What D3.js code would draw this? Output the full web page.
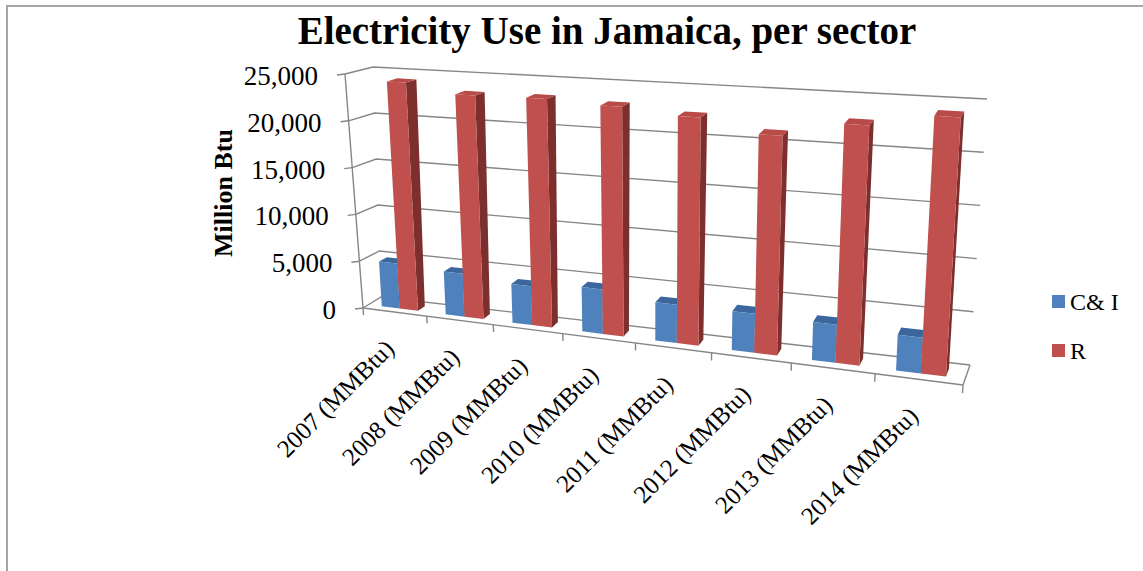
<!DOCTYPE html>
<html>
<head>
<meta charset="utf-8">
<script src="https://cdn.jsdelivr.net/npm/d3@7"></script>
<style>
  body { margin: 0; background: #fff; }
  text { font-family: "Liberation Serif", "DejaVu Serif", serif; fill: #000; }
</style>
</head>
<body>
<div class="canvas"></div>
<script>
const categories = ['2007 (MMBtu)', '2008 (MMBtu)', '2009 (MMBtu)', '2010 (MMBtu)',
  '2011 (MMBtu)', '2012 (MMBtu)', '2013 (MMBtu)', '2014 (MMBtu)'];
const seriesNames = ['C& I', 'R'];
const ciValues = [4800, 4500, 4000, 4500, 3800, 3800, 3650, 3350];
const rValues = [24200, 23300, 23400, 23100, 22550, 21300, 22850, 24150];
const yTicks = [0, 5000, 10000, 15000, 20000, 25000];

const width = 1143, height = 571;

// screen corners of the 3d plot box (f = front, b = back wall)
const box = {
  fbl: [363, 308], fbr: [963, 385], ftl: [345, 74], ftr: [979, 114],
  bbl: [381, 297], bbr: [970, 365], btl: [373, 67], btr: [987, 99]
};
const persp = 0.832;   // foreshortening along the category axis
const barFront = 0.3, barBack = 0.7;

const colors = {
  'C& I': { front: '#4f81bd', top: '#3c679c', side: '#345a88' },
  'R': { front: '#c0504d', top: '#b84a47', side: '#7d2f2d' }
};

const mix = (a, b, k) => [a[0] + (b[0] - a[0]) * k, a[1] + (b[1] - a[1]) * k];

// t: 0..1 along categories, v: 0..1 of value axis, w: 0 front .. 1 back
function project(t, v, w) {
  const s = persp * t / (1 + (persp - 1) * t);
  const front = mix(mix(box.fbl, box.fbr, s), mix(box.ftl, box.ftr, s), v);
  const back = mix(mix(box.bbl, box.bbr, s), mix(box.btl, box.btr, s), v);
  return mix(front, back, w);
}

const svg = d3.select('.canvas')
  .append('svg')
   .attr('width', width)
   .attr('height', height);

svg.append('rect')
  .attr('x', 7).attr('y', 6)
  .attr('width', 1160).attr('height', 600)
  .attr('fill', 'none')
  .attr('stroke', '#a6a6a6')
  .attr('stroke-width', 2);

svg.append('text')
  .attr('x', 607).attr('y', 44)
  .attr('text-anchor', 'middle')
  .style('font-size', '39px')
  .style('font-weight', 'bold')
  .text('Electricity Use in Jamaica, per sector');

const x = d3.scaleBand().domain(categories).range([0, 1]);
const xs = d3.scaleBand().domain(seriesNames).range([0, x.bandwidth()]).paddingOuter(0.75);
const y = d3.scaleLinear().domain([0, 25000]).range([0, 1]);

const line = d3.line();
const gridColor = '#868686';

const graph = svg.append('g');

// walls: gridlines on side wall and back wall
graph.selectAll('.grid')
  .data(yTicks)
  .enter()
  .append('path')
   .attr('class', 'grid')
   .attr('d', d => line([project(0, y(d), 0), project(0, y(d), 1), project(1, y(d), 1)]))
   .attr('fill', 'none')
   .attr('stroke', gridColor)
   .attr('stroke-width', 1.4);

// right edge of the floor
graph.append('path')
  .attr('d', line([project(1, 0, 0), project(1, 0, 1)]))
  .attr('stroke', gridColor)
  .attr('stroke-width', 1.4);

// bars, left to right
const bars = [];
categories.forEach((c, i) => {
  bars.push({ cat: c, series: 'C& I', value: ciValues[i] });
  bars.push({ cat: c, series: 'R', value: rValues[i] });
});

const face = pts => line(pts.map(p => project(p[0], p[1], p[2]))) + 'Z';

bars.forEach(b => {
  const t0 = x(b.cat) + xs(b.series);
  const t1 = t0 + xs.bandwidth();
  const v = y(b.value);
  const g = graph.append('g');
  g.append('path')
    .attr('d', face([[t1, 0, barFront], [t1, 0, barBack], [t1, v, barBack], [t1, v, barFront]]))
    .attr('fill', colors[b.series].side);
  g.append('path')
    .attr('d', face([[t0, v, barFront], [t1, v, barFront], [t1, v, barBack], [t0, v, barBack]]))
    .attr('fill', colors[b.series].top);
  g.append('path')
    .attr('d', face([[t0, 0, barFront], [t1, 0, barFront], [t1, v, barFront], [t0, v, barFront]]))
    .attr('fill', colors[b.series].front);
});

// axes
graph.append('path')
  .attr('d', line([project(0, 0, 0), project(0, 1, 0)]))
  .attr('stroke', gridColor).attr('stroke-width', 1.4);
graph.append('path')
  .attr('d', line([project(0, 0, 0), project(1, 0, 0)]))
  .attr('stroke', gridColor).attr('stroke-width', 1.4);

yTicks.forEach(d => {
  const p = project(0, y(d), 0);
  graph.append('path')
    .attr('d', line([p, [p[0] - 8, p[1] + 1]]))
    .attr('stroke', gridColor).attr('stroke-width', 1.4);
  graph.append('text')
    .attr('x', p[0] - 27).attr('y', p[1] + 2)
    .attr('text-anchor', 'end')
    .attr('dominant-baseline', 'central')
    .style('font-size', '27px')
    .text(d3.format(',')(d));
});

d3.range(categories.length + 1).forEach(i => {
  const t = i / categories.length;
  graph.append('path')
    .attr('d', line([project(t, 0, 0), project(t, -0.03, 0)]))
    .attr('stroke', gridColor).attr('stroke-width', 1.4);
});

categories.forEach(c => {
  const p = project(x(c) + x.bandwidth() / 2, 0, 0);
  graph.append('text')
    .attr('transform', `translate(${p[0] - 5}, ${p[1] + 32}) rotate(-45)`)
    .attr('text-anchor', 'end')
    .attr('dy', '0.35em')
    .style('font-size', '25px')
    .text(c);
});

svg.append('text')
  .attr('transform', 'translate(223, 193) rotate(-90)')
  .attr('text-anchor', 'middle')
  .attr('dominant-baseline', 'central')
  .style('font-size', '26px')
  .style('font-weight', 'bold')
  .text('Million Btu');

// legend
const legend = svg.append('g')
  .selectAll('g')
  .data(seriesNames)
  .enter()
  .append('g')
   .attr('transform', (d, i) => `translate(1052, ${295 + i * 49})`);

legend.append('rect')
  .attr('width', 13).attr('height', 13)
  .attr('fill', d => colors[d].front);

legend.append('text')
  .attr('x', 18).attr('y', 7)
  .attr('dominant-baseline', 'central')
  .style('font-size', '24px')
  .text(d => d);
</script>
</body>
</html>
